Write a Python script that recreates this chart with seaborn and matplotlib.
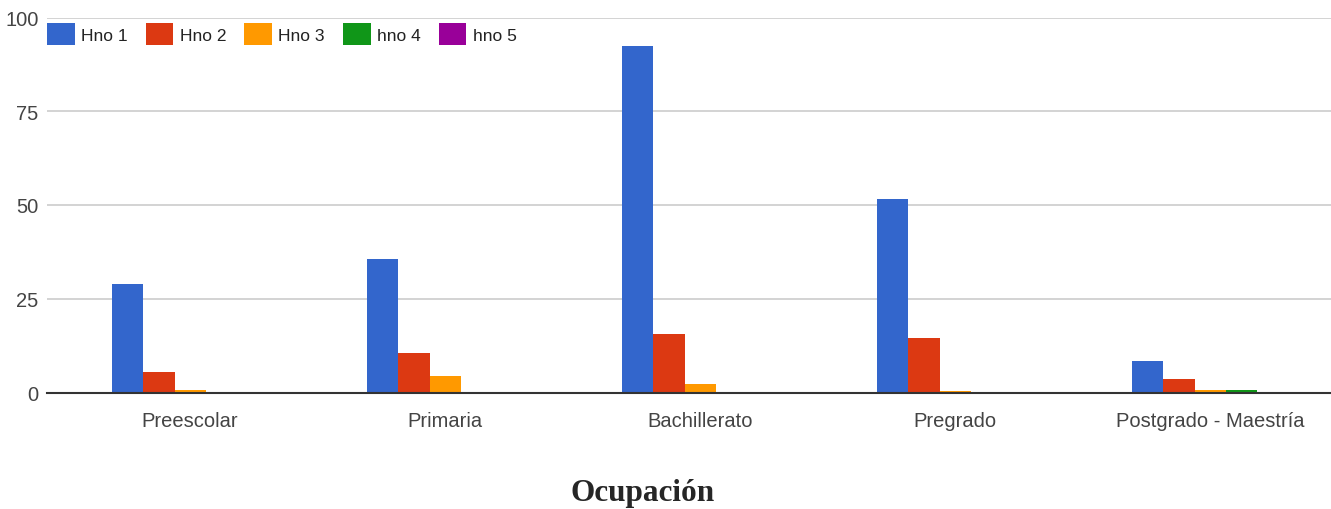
import matplotlib
matplotlib.use("Agg")
import matplotlib.pyplot as plt
import pandas as pd
import seaborn as sns

categories = ["Preescolar", "Primaria", "Bachillerato", "Pregrado", "Postgrado - Maestría"]
series_names = ["Hno 1", "Hno 2", "Hno 3", "hno 4", "hno 5"]
hno1 = [29, 35.5, 92.5, 51.5, 8.5]
hno2 = [5.5, 10.5, 15.5, 14.5, 3.5]
hno3 = [0.6, 4.5, 2.2, 0.5, 0.6]
hno4 = [0, 0, 0, 0, 0.6]
hno5 = [0, 0, 0, 0, 0]
colors = ["#3366cc", "#dc3912", "#ff9900", "#109618", "#990099"]

rows = []
for name, vals in zip(series_names, [hno1, hno2, hno3, hno4, hno5]):
    for cat, v in zip(categories, vals):
        rows.append({"cat": cat, "serie": name, "valor": v})
df = pd.DataFrame(rows)

sns.set_theme(style="white")
plt.rcParams["font.family"] = ["Liberation Sans", "DejaVu Sans"]

fig = plt.figure(figsize=(13.31, 5.10), dpi=100)
ax = fig.add_axes([47 / 1331, 1 - 393.5 / 510, 1 - 47 / 1331, 375 / 510])

sns.barplot(data=df, x="cat", y="valor", hue="serie", palette=colors,
            width=0.61, gap=0, saturation=1, edgecolor="none", linewidth=0, ax=ax)

ax.set_ylim(0, 100)
ax.set_xlim(-0.561, 4.474)
ax.set_yticks([0, 25, 50, 75, 100])
ax.yaxis.grid(True, color="#cccccc", linewidth=1.2)
ax.set_axisbelow(True)
for s in ["top", "right", "left"]:
    ax.spines[s].set_visible(False)
ax.spines["bottom"].set_color("#333333")
ax.spines["bottom"].set_linewidth(1.5)
ax.tick_params(axis="both", length=0, labelsize=14.5, colors="#444444")
ax.tick_params(axis="x", pad=13)
ax.tick_params(axis="y", pad=6)
ax.set_xlabel("")
ax.set_ylabel("")

ax.legend(loc="upper left", bbox_to_anchor=(0.0, 0.984), ncol=5, frameon=False,
          fontsize=12.5, handlelength=1.6, handleheight=1.5, columnspacing=1.05,
          handletextpad=0.35, borderaxespad=0.0, borderpad=0.0, labelcolor="#222222")

fig.text(643 / 1331, 1 - 494 / 510, "Ocupación", ha="center", va="center",
         fontsize=22.5, fontweight="bold", family=["Liberation Serif", "DejaVu Serif"])

fig.savefig("out.png", dpi=100)
